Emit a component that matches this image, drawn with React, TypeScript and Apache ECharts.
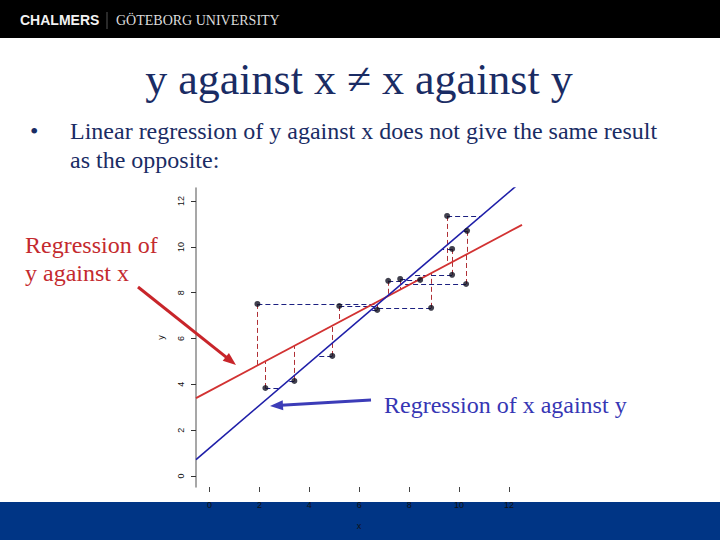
import React, { useEffect, useRef } from "react";
import * as echarts from "echarts";

// Observed data points (x, y)
const xValues = [1.92, 2.24, 3.4, 4.92, 5.2, 6.72, 7.16, 7.64, 8.44, 8.88, 9.72, 10.28, 9.72, 9.52, 10.32];
const yValues = [7.51, 3.84, 4.15, 5.24, 7.42, 7.25, 8.52, 8.6, 8.56, 7.34, 8.78, 8.38, 9.91, 11.35, 10.7];

// Regression of y against x (red)
const redIntercept = 3.71;
const redSlope = 0.579;
// Regression of x against y (blue), expressed as y = a + b x
const blueIntercept = 1.22;
const blueSlope = 0.931;

const xTicks = [0, 2, 4, 6, 8, 10, 12];
const yTicks = [0, 2, 4, 6, 8, 10, 12];
const xRange = [-0.54, 12.52];
const yRange = [-0.48, 12.57];

const SERIF = "'Liberation Serif', 'DejaVu Serif', serif";
const SANS = "'Liberation Sans', Arial, sans-serif";

export default function App() {
  const ref = useRef<HTMLDivElement>(null);

  useEffect(() => {
    if (!ref.current) return;
    const chart = echarts.init(ref.current, null, { renderer: "svg" });

    const points = xValues.map((x, i) => [x, yValues[i]]);
    const redFit = (x: number) => redIntercept + redSlope * x;
    const blueInv = (y: number) => (y - blueIntercept) / blueSlope;

    const redResiduals = points.map(([x, y]) => ({ coords: [[x, y], [x, redFit(x)]] }));
    const blueResiduals = points.map(([x, y]) => ({ coords: [[x, y], [blueInv(y), y]] }));

    const redLine = [xRange[0], xRange[1]].map((x) => [x, redFit(x)]);
    const blueLine = [xRange[0], xRange[1]].map((x) => [x, blueIntercept + blueSlope * x]);

    const arrow = (x1: number, y1: number, x2: number, y2: number, color: string) => {
      const dx = x2 - x1;
      const dy = y2 - y1;
      const len = Math.sqrt(dx * dx + dy * dy);
      const ux = dx / len;
      const uy = dy / len;
      const hl = 13;
      const hw = 5;
      const bx = x2 - ux * hl;
      const by = y2 - uy * hl;
      return [
        {
          type: "line",
          shape: { x1, y1, x2: bx + ux * 2, y2: by + uy * 2 },
          style: { stroke: color, lineWidth: 3 },
          z: 100,
        },
        {
          type: "polygon",
          shape: {
            points: [
              [x2, y2],
              [bx - uy * hw, by + ux * hw],
              [bx + uy * hw, by - ux * hw],
            ],
          },
          style: { fill: color },
          z: 100,
        },
      ];
    };

    chart.setOption({
      animation: false,
      backgroundColor: "#ffffff",
      grid: { left: 196, top: 188, width: 326, height: 299, containLabel: false },
      xAxis: {
        type: "value",
        min: xRange[0],
        max: xRange[1],
        name: "x",
        nameLocation: "middle",
        nameGap: 34,
        nameTextStyle: { fontFamily: SANS, fontSize: 9, color: "#111" },
        axisLine: { show: false, onZero: false },
        splitLine: { show: false },
        axisTick: { show: true, customValues: xTicks, length: 5, lineStyle: { color: "#444" } },
        axisLabel: {
          customValues: xTicks,
          fontFamily: SANS,
          fontSize: 9,
          color: "#111",
          margin: 13,
        },
      },
      yAxis: {
        type: "value",
        min: yRange[0],
        max: yRange[1],
        name: "y",
        nameLocation: "middle",
        nameGap: 31,
        nameRotate: 90,
        nameTextStyle: { fontFamily: SANS, fontSize: 9, color: "#111" },
        axisLine: { show: true, onZero: false, lineStyle: { color: "#8a8a8a", width: 1.5 } },
        splitLine: { show: false },
        axisTick: { show: true, customValues: yTicks, length: 5, lineStyle: { color: "#333" } },
        axisLabel: {
          customValues: yTicks,
          rotate: 90,
          fontFamily: SANS,
          fontSize: 9,
          color: "#111",
          margin: 11,
        },
      },
      series: [
        {
          type: "lines",
          coordinateSystem: "cartesian2d",
          data: redResiduals,
          lineStyle: { color: "#b03036", width: 1, type: [5, 3], opacity: 1 },
          silent: true,
          z: 2,
        },
        {
          type: "lines",
          coordinateSystem: "cartesian2d",
          data: blueResiduals,
          lineStyle: { color: "#1c2080", width: 1, type: [5, 3], opacity: 1 },
          silent: true,
          z: 2,
        },
        {
          type: "line",
          data: redLine,
          showSymbol: false,
          lineStyle: { color: "#d23232", width: 1.8 },
          z: 3,
        },
        {
          type: "line",
          data: blueLine,
          showSymbol: false,
          lineStyle: { color: "#1e1ea8", width: 1.6 },
          z: 3,
        },
        {
          type: "scatter",
          data: points,
          symbolSize: 6,
          itemStyle: { color: "#111122" },
          z: 4,
        },
      ],
      graphic: [
        { type: "rect", shape: { x: 0, y: 0, width: 720, height: 38 }, style: { fill: "#000" }, z: -10 },
        {
          type: "text",
          x: 20,
          y: 20,
          style: { text: "CHALMERS", fill: "#f2f2f2", font: `bold 14px ${SANS}`, textVerticalAlign: "middle" },
        },
        { type: "line", shape: { x1: 107, y1: 12, x2: 107, y2: 29 }, style: { stroke: "#555", lineWidth: 1 } },
        {
          type: "text",
          x: 116,
          y: 20,
          style: { text: "GÖTEBORG UNIVERSITY", fill: "#dcdcdc", font: `14px ${SERIF}`, textVerticalAlign: "middle" },
        },
        {
          type: "text",
          x: 359,
          y: 79,
          style: {
            text: "y against x ≠ x against y",
            fill: "#1a2c64",
            font: `44px ${SERIF}`,
            textAlign: "center",
            textVerticalAlign: "middle",
          },
        },
        {
          type: "text",
          x: 30,
          y: 131,
          style: { text: "•", fill: "#1a2c64", font: `24px ${SERIF}`, textVerticalAlign: "middle" },
        },
        {
          type: "text",
          x: 70,
          y: 131,
          style: {
            text: "Linear regression of y against x does not give the same result",
            fill: "#1a2c64",
            font: `24px ${SERIF}`,
            textVerticalAlign: "middle",
          },
        },
        {
          type: "text",
          x: 70,
          y: 160,
          style: { text: "as the opposite:", fill: "#1a2c64", font: `24px ${SERIF}`, textVerticalAlign: "middle" },
        },
        {
          type: "text",
          x: 25,
          y: 245,
          style: { text: "Regression of", fill: "#c42a2e", font: `24px ${SERIF}`, textVerticalAlign: "middle" },
        },
        {
          type: "text",
          x: 25,
          y: 273,
          style: { text: "y against x", fill: "#c42a2e", font: `24px ${SERIF}`, textVerticalAlign: "middle" },
        },
        {
          type: "text",
          x: 384,
          y: 405,
          style: {
            text: "Regression of x against y",
            fill: "#3636b4",
            font: `24px ${SERIF}`,
            textVerticalAlign: "middle",
          },
        },
        ...arrow(138, 287, 236, 365, "#c8252a"),
        ...arrow(371, 400, 270, 406, "#3c3cb8"),
        { type: "rect", shape: { x: 0, y: 502, width: 720, height: 38 }, style: { fill: "#003585" }, z: -10 },
      ],
    });

    return () => chart.dispose();
  }, []);

  return <div ref={ref} style={{ position: "fixed", left: 0, top: 0, width: 720, height: 540 }} />;
}
